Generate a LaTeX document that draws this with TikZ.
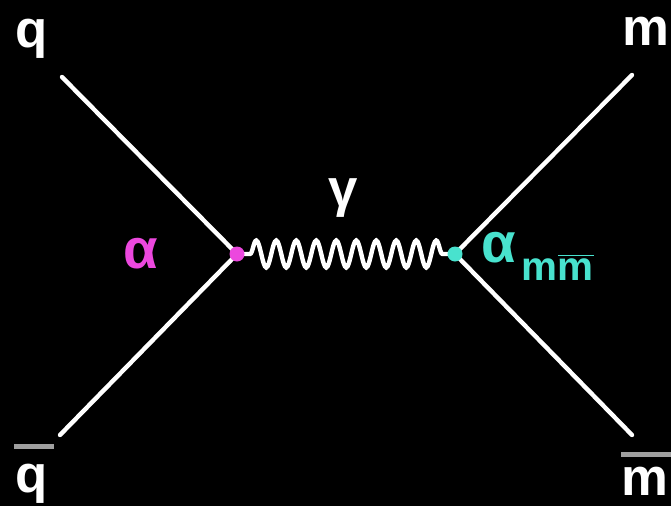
\documentclass[tikz,border=0pt]{standalone}
\usepackage{fontspec}
\setmainfont{Liberation Sans}
\usetikzlibrary{decorations.pathmorphing, positioning}

\definecolor{vtxmagenta}{RGB}{236,72,222}
\definecolor{vtxcyan}{RGB}{72,226,206}

\begin{document}
\begin{tikzpicture}[
  fermion/.style={draw=white, line width=2.5pt, line cap=round},
  photon/.style={draw=white, line width=2.5pt, decorate,
    decoration={snake, amplitude=0.27cm, segment length=0.4cm, pre length=0.26cm, post length=0.2cm}},
  vertex/.style={circle, inner sep=0pt, minimum size=0.3cm},
  particle/.style={text=white, font=\fontsize{30}{36}\selectfont\bfseries, inner sep=0pt},
  coupling/.style={font=\fontsize{32}{38}\selectfont\bfseries, inner sep=0pt},
  antibar/.style={draw=gray!75, line width=2.8pt}
]

  % Background
  \fill[black] (0,0) rectangle (13.42,10.12);
  \useasboundingbox (0,0) rectangle (13.42,10.12);

  % Free ends of the external lines
  \coordinate (qin) at (1.24, 8.58);
  \coordinate (qbin) at (1.20, 1.42);
  \coordinate (mout) at (12.64, 8.62);
  \coordinate (mbout) at (12.64, 1.42);

  % Vertices
  \coordinate (vl) at (4.74, 5.04);
  \coordinate (vr) at (9.10, 5.04);

  % External fermion lines
  \draw[fermion] (qin) -- (vl);
  \draw[fermion] (qbin) -- (vl);
  \draw[fermion] (vr) -- (mout);
  \draw[fermion] (vr) -- (mbout);

  % Photon
  \draw[photon] (vl) -- (vr);

  % Vertex blobs
  \node[vertex, fill=vtxmagenta] at (vl) {};
  \node[vertex, fill=vtxcyan] at (vr) {};

  % Particle labels
  \node[particle, anchor=base west] (q) at (0.30, 9.18) {q};
  \node[particle, anchor=base west] (qb) at (0.30, 0.28) {q};
  \draw[antibar] ([xshift=-0.02cm, yshift=0.34cm]qb.north west) -- ++(0.8,0);
  \node[particle, anchor=base west] (m) at (12.44, 9.22) {m};
  \node[particle, anchor=base west] (mb) at (12.42, 0.22) {m};
  \draw[antibar] ([yshift=0.24cm]mb.north west) -- ++(1.2,0);
  \node[particle, anchor=base west] (gam) at (6.56, 6.0) {γ};

  % Couplings
  \node[coupling, text=vtxmagenta, anchor=base west] (al) at (2.46, 4.76) {α};
  \node[coupling, text=vtxcyan, anchor=base west] (ar) at (9.62, 4.88)
    {α\hspace{0.12cm}\raisebox{-0.36cm}{\fontsize{23}{28}\selectfont m$\overline{\mbox{m}}$}};

\end{tikzpicture}
\end{document}
